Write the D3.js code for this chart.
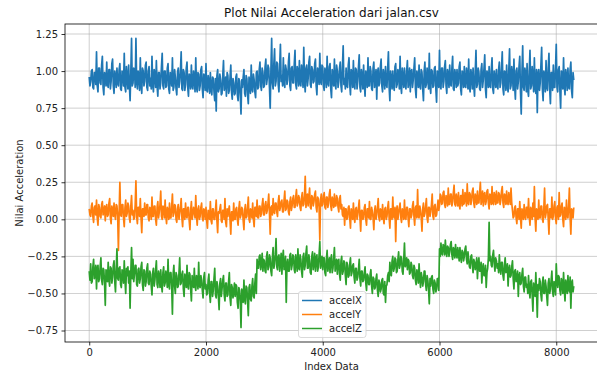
<!DOCTYPE html>
<html><head><meta charset="utf-8">
<script src="https://cdn.jsdelivr.net/npm/d3@7"></script>
<style>
html,body{margin:0;padding:0;background:#fff;}
svg{display:block;font-family:"DejaVu Sans",sans-serif;}
</style></head>
<body><svg id="c" width="597" height="376"></svg>
<script>
// sampled every 12.5 index units (0 .. 8300)
const step = 12.5;
const accelX = [
.96,.90,.93,1.00,1.01,.89,.88,.99,.99,.91,1.13,.90,.86,1.02,1.02,.92,.91,1.04,1.10,.89,.84,.99,.98,.90,1.06,.91,.89,1.01,1.01,.88,.93,1.05,1.08,.90,.85,1.00,.97,.89,1.02,.92,
.90,1.01,1.05,.88,.87,1.00,.99,.90,1.12,.89,.86,1.03,.96,.88,1.04,.91,.80,.99,1.22,.90,.92,1.02,1.01,.89,1.22,.93,.88,1.00,.97,.87,1.09,.91,.85,1.02,1.00,.90,.93,1.04,1.06,.89,
.87,1.00,1.03,.90,.95,.88,1.10,.91,.86,1.01,.98,.89,1.07,.90,.83,.99,.99,.88,.92,1.03,1.12,.90,.88,1.00,1.00,.89,.90,1.02,1.05,.88,.85,.99,.97,.90,1.09,.87,.89,1.01,.96,.88,
.84,.99,1.02,.89,.93,1.00,1.13,.88,.87,1.01,.99,.87,.91,1.02,1.06,.89,.83,.98,.97,.88,1.04,.90,.88,1.00,.95,.86,1.09,.89,.86,.99,.98,.87,.90,1.01,1.03,.88,.82,.98,.96,.87,
1.05,.87,.86,.97,.93,.85,.99,.88,.84,.96,.95,.86,.80,.95,.73,.97,1.01,.86,.88,.98,.94,.84,.85,.97,1.07,.87,.90,.96,.83,.99,.97,.85,.87,.96,1.04,.86,.81,.95,.92,.84,
.85,.96,.98,.84,.80,.95,.93,.83,.71,.94,.89,.96,1.01,.85,.83,.97,.95,.84,.78,.96,.91,.85,1.04,.88,.86,.98,.94,.86,.82,.99,1.00,.88,.89,1.01,1.06,.90,.87,1.02,.99,.89,
.90,1.03,1.08,.91,.95,1.04,1.02,.89,.75,1.01,1.22,.92,.88,1.05,1.15,.90,.93,1.06,1.05,.91,.86,1.03,1.18,.93,.97,.90,1.09,.92,.89,1.04,1.01,.91,.94,1.06,1.12,.90,.87,1.02,1.03,.92,
.92,1.05,1.14,.91,.88,1.03,1.00,.90,1.07,.92,.90,1.04,.98,.89,1.16,.93,.86,1.02,1.04,.90,.95,1.06,1.10,.91,.89,1.03,1.01,.92,.93,1.05,1.08,.90,.84,1.02,.99,.91,1.12,.93,.91,1.04,
1.03,.90,.87,1.02,.98,.89,1.10,.92,.90,1.03,1.05,.88,.82,1.01,.97,.90,1.08,.91,.88,1.04,1.00,.89,.93,1.02,1.06,.90,.86,1.03,1.17,.91,.95,.88,1.02,.90,.89,1.04,1.09,.91,.84,1.01,
.99,.89,1.07,.90,.88,1.02,1.01,.88,.93,1.03,1.11,.89,.86,1.01,.97,.88,1.04,.91,.83,1.00,.96,.89,1.09,.90,.90,1.03,1.00,.88,.87,1.02,1.06,.89,.94,1.01,.81,.99,1.02,.90,.92,1.03,
1.08,.90,.86,1.01,.97,.88,1.03,.91,.89,1.02,1.13,.89,.80,1.00,.95,.88,1.00,.90,.87,1.03,1.05,.89,.91,1.01,.98,.88,1.10,.90,.85,1.02,.96,.89,1.02,.91,.88,1.00,1.07,.89,.93,1.02,
.86,1.00,1.01,.89,.94,1.02,1.09,.88,.82,1.00,.97,.89,1.04,.90,.88,1.01,.99,.88,.80,1.00,1.06,.89,.91,1.02,.96,.88,1.12,.90,.85,1.01,1.00,.89,.90,1.02,1.03,.88,.79,1.00,.95,.89,
1.14,.90,.88,1.02,1.02,.89,.93,1.03,1.07,.90,.85,1.01,.98,.89,1.04,.91,.90,1.02,1.10,.88,.87,1.01,.97,.89,1.01,.90,.92,1.03,1.06,.88,.84,1.00,.99,.89,1.03,.90,.89,1.02,.96,.88,
1.08,.89,.86,1.01,.97,.88,1.02,.90,.83,1.00,1.14,.89,.91,1.02,.99,.88,.87,1.01,1.05,.89,.94,1.02,1.11,.88,.82,1.00,.98,.89,1.03,.90,.89,1.01,1.09,.88,.85,1.00,.96,.89,1.01,.90,
.88,1.01,1.06,.89,.92,1.02,1.13,.88,.84,1.00,.99,.87,1.04,.90,.86,1.01,1.15,.88,.90,1.03,.97,.87,1.08,.90,.81,1.00,1.02,.88,.93,1.03,1.10,.86,.71,.99,1.17,.89,.87,1.02,.98,.86,
1.05,.87,.83,1.00,1.14,.88,.90,1.03,.96,.86,1.09,.89,.85,1.01,.72,.98,1.01,.87,.92,1.04,1.16,.88,.80,1.00,.97,.86,1.07,.89,.87,1.02,1.12,.88,.78,.99,.99,.87,1.04,.89,.89,1.02,
1.18,.89,.86,1.01,1.03,.87,.75,1.00,.98,.88,1.09,.90,.84,1.01,.97,.87,1.02,.89,.88,1.01,1.06,.87,.82,.99,.94
];
const accelY = [
.07,.03,.02,.09,.11,.02,-.02,.08,.09,.03,.13,.01,-.04,.10,.08,.02,.01,.10,.12,.03,.05,.09,-.01,.08,.10,.02,.03,.11,.14,.01,-.03,.09,.06,.02,.11,.03,.00,.10,.09,.02,
-.21,.05,.25,.03,.02,.10,.10,.01,-.05,.08,.13,.02,.04,.11,.09,.01,-.02,.09,.16,.03,.06,.00,.01,.10,.26,.02,-.03,.08,.08,.02,.14,.01,-.09,.07,.07,.02,.11,.03,.03,.10,
.10,.01,-.01,.08,.07,.00,.15,.02,.02,.09,.09,.00,-.04,.08,.12,.01,.05,.10,.19,.02,.00,.09,.08,.01,.13,.02,-.03,.08,.06,.00,.11,.01,.01,.09,.17,.02,.04,.10,.09,.00,
-.02,.07,.10,.00,.04,.08,.14,.01,-.05,.07,.07,.00,.11,.02,.01,.08,.08,-.01,-.07,.06,.12,.00,.03,.08,.06,.01,.16,.02,-.04,.07,.09,.00,.02,.08,.11,.01,-.01,.07,.06,.00,
.08,-.01,-.06,.06,.05,.00,.12,-.01,-.03,.07,.07,.00,.00,.06,.13,-.01,-.09,.05,.04,.07,.10,-.01,-.02,.06,.06,.00,.14,-.02,-.05,.07,.02,.06,.09,-.01,-.10,.05,.05,-.01,.11,.00,
.00,.07,.08,.00,-.04,.07,.12,.01,.03,.08,.07,-.01,-.07,.06,.10,.01,.02,.08,.15,.00,-.02,.07,.06,.01,.11,.00,-.05,.08,.08,.02,.13,.01,.01,.09,.09,.02,.04,.10,.14,.03,
.03,.10,.12,.04,.06,.11,.17,.04,-.10,.08,.09,.03,.14,.05,.04,.11,.11,.05,.02,.12,.16,.06,.08,.12,.13,.05,.05,.13,.19,.06,.07,.13,.12,.05,.03,.12,.15,.06,.09,.14,
.16,.08,.08,.15,.20,.09,.11,.16,.14,.08,.06,.15,.18,.09,.10,.16,.29,.08,.13,.17,.09,.15,.21,.08,.07,.16,.15,.09,.12,.17,.19,.08,.05,.15,.14,.08,-.14,.13,.17,.09,
.10,.16,.18,.08,.07,.15,.15,.08,.11,.17,.20,.09,.06,.15,.13,.08,.17,.09,.09,.16,.14,.08,.05,.14,.16,.07,.10,.03,.02,.08,-.04,.07,.07,.00,.01,.08,.09,.01,-.06,.07,
.05,.00,.11,.01,-.02,.07,.08,.00,.03,.08,.13,.01,-.08,.06,.06,.00,.01,.08,.10,.00,-.04,.07,.07,.01,.12,.00,.00,.08,.05,.01,-.07,.06,.09,.00,.03,.08,.14,.01,-.01,.07,
.06,.00,.10,.01,-.03,.07,.08,.00,.02,.08,.12,.01,-.06,.07,.07,.00,.15,.02,.01,.08,-.15,.06,.09,.00,.04,.08,.11,.01,-.02,.07,.06,.00,.13,.01,.00,.08,.08,.01,-.05,.07,
.07,.01,.03,.09,.12,.02,-.04,.08,.09,.01,.20,.02,.01,.09,.06,.01,-.08,.07,.11,.02,.04,.09,.14,.01,-.02,.08,.08,.02,.05,.10,.17,.02,.00,.09,.10,.02,.03,.08,.13,.06,
.09,.17,.16,.10,.11,.18,.19,.10,.08,.16,.15,.09,.21,.10,.10,.17,.17,.09,.12,.18,.23,.10,.09,.17,.14,.09,.18,.10,.07,.16,.16,.09,.20,.10,.11,.18,.15,.09,.24,.11,
.10,.18,.17,.10,.13,.19,.21,.11,.08,.17,.15,.10,.19,.11,.11,.18,.25,.10,.14,.19,.09,.17,.18,.10,.12,.19,.20,.11,.07,.17,.16,.10,.22,.11,.10,.18,.15,.10,.19,.11,
.11,.18,.17,.10,.13,.19,.22,.11,.08,.17,.16,.10,.19,.11,.10,.18,.14,.10,.21,.11,.06,.01,.02,.08,.09,.01,-.03,.07,.07,.00,.12,.01,-.06,.07,.05,.00,.10,.02,.00,.08,
.08,.01,.14,.02,-.04,.08,.06,.00,.11,.02,.22,.01,-.08,.07,.05,.00,.13,.01,.01,.09,.09,.00,-.02,.08,.21,.01,.04,.09,.10,.00,-.10,.07,.07,.01,.15,.00,.02,.09,.12,.01,
-.03,.08,.09,.00,.18,.02,.03,.09,.11,.00,-.05,.08,.07,.00,.13,.02,.01,.09,.21,.01,-.10,.07,.06,.01,.08
];
const accelZ = [
-.35,-.41,-.30,-.43,-.42,-.32,-.27,-.40,-.38,-.31,-.47,-.33,-.31,-.42,-.40,-.32,-.26,-.41,-.44,-.33,-.34,-.43,-.58,-.34,-.36,-.42,-.29,-.41,-.45,-.32,-.33,-.43,-.39,-.31,-.28,-.42,-.49,-.33,-.20,-.40,
-.41,-.33,-.32,-.44,-.46,-.34,-.36,-.43,-.28,-.41,-.50,-.33,-.38,-.32,-.43,-.35,-.60,-.36,-.19,-.40,-.27,-.42,-.37,-.31,-.31,-.44,-.45,-.34,-.33,-.43,-.40,-.32,-.29,-.44,-.48,-.34,-.35,-.45,-.42,-.33,
-.30,-.43,-.44,-.35,-.37,-.45,-.51,-.36,-.33,-.45,-.41,-.34,-.28,-.44,-.46,-.35,-.38,-.46,-.34,-.44,-.49,-.36,-.32,-.45,-.43,-.35,-.39,-.46,-.27,-.44,-.47,-.36,-.36,-.45,-.64,-.37,-.31,-.45,-.50,-.36,
-.38,-.46,-.45,-.36,-.26,-.44,-.43,-.37,-.35,-.47,-.52,-.37,-.40,-.46,-.31,-.45,-.47,-.36,-.37,-.47,-.55,-.38,-.42,-.46,-.33,-.45,-.48,-.38,-.39,-.47,-.29,-.45,-.46,-.38,-.41,-.48,-.53,-.39,-.36,-.47,
-.44,-.51,-.50,-.41,-.37,-.50,-.56,-.42,-.42,-.52,-.48,-.40,-.33,-.51,-.53,-.42,-.45,-.52,-.61,-.43,-.40,-.52,-.47,-.41,-.38,-.51,-.55,-.43,-.43,-.52,-.51,-.42,-.36,-.53,-.58,-.44,-.46,-.53,-.49,-.43,
-.52,-.44,-.45,-.56,-.60,-.46,-.48,-.55,-.73,-.47,-.50,-.56,-.41,-.54,-.57,-.45,-.46,-.55,-.65,-.46,-.44,-.54,-.55,-.45,-.40,-.52,-.53,-.43,-.37,-.50,-.27,-.33,-.33,-.25,-.24,-.34,-.30,-.23,-.35,-.27,
-.28,-.35,-.36,-.25,-.22,-.34,-.32,-.24,-.26,-.35,-.38,-.26,-.19,-.33,-.30,-.24,-.13,-.32,-.34,-.25,-.24,-.35,-.29,-.23,-.37,-.26,-.21,-.34,-.33,-.25,-.56,-.30,-.27,-.35,-.35,-.24,-.23,-.34,-.31,-.24,
-.25,-.34,-.36,-.24,-.29,-.35,-.20,-.33,-.34,-.24,-.27,-.35,-.39,-.25,-.23,-.34,-.31,-.23,-.18,-.33,-.33,-.24,-.28,-.36,-.37,-.25,-.22,-.34,-.30,-.23,-.35,-.26,-.24,-.35,-.32,-.24,-.15,-.33,-.29,-.25,
-.34,-.26,-.26,-.36,-.38,-.27,-.21,-.35,-.31,-.26,-.36,-.27,-.24,-.36,-.33,-.26,-.19,-.35,-.30,-.27,-.37,-.28,-.27,-.37,-.41,-.28,-.25,-.37,-.35,-.28,-.29,-.38,-.44,-.29,-.31,-.39,-.38,-.30,-.26,-.38,
-.36,-.31,-.30,-.39,-.43,-.33,-.33,-.41,-.39,-.34,-.27,-.40,-.45,-.35,-.35,-.42,-.41,-.36,-.32,-.43,-.48,-.37,-.38,-.44,-.44,-.37,-.34,-.45,-.50,-.39,-.40,-.47,-.46,-.40,-.37,-.48,-.52,-.41,-.43,-.49,
-.47,-.41,-.40,-.50,-.51,-.42,-.56,-.45,-.44,-.38,-.36,-.42,-.29,-.37,-.38,-.28,-.25,-.35,-.33,-.26,-.27,-.36,-.35,-.27,-.22,-.33,-.31,-.25,-.26,-.35,-.37,-.27,-.16,-.32,-.30,-.26,-.34,-.27,-.28,-.37,
-.36,-.29,-.31,-.38,-.40,-.31,-.33,-.41,-.44,-.34,-.37,-.43,-.30,-.40,-.46,-.36,-.39,-.45,-.42,-.35,-.35,-.44,-.48,-.38,-.41,-.47,-.57,-.40,-.45,-.39,-.38,-.47,-.50,-.41,-.43,-.49,-.47,-.40,-.40,-.48,
-.20,-.25,-.16,-.23,-.24,-.17,-.18,-.24,-.14,-.22,-.25,-.18,-.19,-.25,-.22,-.17,-.15,-.24,-.27,-.19,-.21,-.26,-.17,-.24,-.26,-.19,-.23,-.28,-.19,-.25,-.29,-.21,-.22,-.28,-.25,-.20,-.18,-.27,-.30,-.22,
-.27,-.32,-.33,-.25,-.24,-.31,-.36,-.27,-.29,-.34,-.31,-.26,-.40,-.30,-.26,-.35,-.35,-.29,-.43,-.33,-.30,-.38,-.38,-.31,-.46,-.36,-.33,-.26,-.02,-.28,-.25,-.31,-.32,-.24,-.21,-.30,-.35,-.26,-.28,-.33,
-.30,-.36,-.24,-.33,-.37,-.29,-.29,-.38,-.41,-.31,-.26,-.36,-.35,-.30,-.45,-.34,-.31,-.39,-.38,-.32,-.28,-.40,-.47,-.35,-.34,-.42,-.40,-.35,-.52,-.38,-.36,-.44,-.43,-.37,-.33,-.45,-.49,-.39,-.39,-.46,
-.44,-.50,-.38,-.48,-.53,-.42,-.41,-.51,-.62,-.43,-.46,-.52,-.36,-.49,-.66,-.44,-.48,-.40,-.42,-.51,-.55,-.43,-.39,-.50,-.50,-.41,-.45,-.52,-.58,-.43,-.40,-.50,-.47,-.41,-.35,-.49,-.52,-.42,-.43,-.51,
-.30,-.42,-.46,-.38,-.39,-.48,-.51,-.40,-.42,-.50,-.36,-.47,-.55,-.41,-.44,-.50,-.38,-.47,-.49,-.39,-.60,-.43,-.41,-.49,-.45
];
const seriesNames = ["accelX","accelY","accelZ"];
const seriesColors = ["#1f77b4","#ff7f0e","#2ca02c"];
const xTicks = [0,2000,4000,6000,8000];
const yTicks = [-0.75,-0.5,-0.25,0,0.25,0.5,0.75,1.0,1.25];
const title = "Plot Nilai Acceleration dari jalan.csv";
const xLabel = "Index Data";
const yLabel = "Nilai Acceleration";

const svg = d3.select("#c");
const L = 65, R = 598, T = 24, B = 342;
const series = [accelX, accelY, accelZ];
const xMax = 8300;
const xPad = xMax*0.05;
const allV = series.flat();
const vMin = d3.min(allV), vMax = d3.max(allV);
const yPad = (vMax - vMin)*0.05;
const x = d3.scaleLinear().domain([-xPad, xMax + xPad]).range([L, R]);
const y = d3.scaleLinear().domain([vMin - yPad, vMax + yPad]).range([B, T]);

// grid
const grid = svg.append("g");
xTicks.forEach(t => grid.append("line").attr("x1", x(t)).attr("x2", x(t)).attr("y1", T).attr("y2", B)
  .attr("stroke", "#b0b0b0").attr("stroke-width", 0.8).attr("opacity", 0.75));
yTicks.forEach(t => grid.append("line").attr("x1", L).attr("x2", R).attr("y1", y(t)).attr("y2", y(t))
  .attr("stroke", "#b0b0b0").attr("stroke-width", 0.8).attr("opacity", 0.75));

// lines
series.forEach((s, k) => {
  const st = xMax / (s.length - 1);
  const line = d3.line().x((d,i) => x(i*st)).y(d => y(d));
  svg.append("path").datum(s).attr("d", line).attr("fill", "none")
    .attr("stroke", seriesColors[k]).attr("stroke-width", 1.7).attr("stroke-linejoin", "round");
});

// axes
const fmtY = d => d3.format(".2f")(d).replace("-", "\u2212");
const xAxis = d3.axisBottom(x).tickValues(xTicks).tickSize(3.5).tickPadding(3.5).tickFormat(d3.format("d"));
const yAxis = d3.axisLeft(y).tickValues(yTicks).tickSize(3.5).tickPadding(3.5).tickFormat(fmtY);
const gx = svg.append("g").attr("transform", `translate(0,${B})`).call(xAxis);
const gy = svg.append("g").attr("transform", `translate(${L},0)`).call(yAxis);
[gx, gy].forEach(g => {
  g.select(".domain").remove();
  g.selectAll(".tick line").attr("stroke", "#000").attr("stroke-width", 0.8);
  g.selectAll(".tick text").attr("fill", "#222").style("font-size", "10px").style("font-family", "DejaVu Sans");
});
// spines
svg.append("rect").attr("x", L).attr("y", T).attr("width", R-L).attr("height", B-T)
  .attr("fill", "none").attr("stroke", "#000").attr("stroke-width", 0.8);

// title and labels
svg.append("text").attr("x", (L+R)/2).attr("y", 17).attr("text-anchor", "middle")
  .style("font-size", "12px").attr("fill", "#111").text(title);
svg.append("text").attr("x", (L+R)/2).attr("y", 370).attr("text-anchor", "middle")
  .style("font-size", "10px").attr("fill", "#222").text(xLabel);
svg.append("text").attr("transform", `translate(23,${(T+B)/2}) rotate(-90)`).attr("text-anchor", "middle")
  .style("font-size", "10px").attr("fill", "#222").text(yLabel);

// legend
const lg = svg.append("g");
lg.append("rect").attr("x", 298.5).attr("y", 291.5).attr("width", 67.5).attr("height", 46).attr("rx", 2.5)
  .attr("fill", "#fff").attr("fill-opacity", 0.8).attr("stroke", "#d0d0d0").attr("stroke-width", 0.8);
seriesNames.forEach((nm, k) => {
  const yy = 300.5 + k*14;
  lg.append("line").attr("x1", 302).attr("x2", 322).attr("y1", yy).attr("y2", yy)
    .attr("stroke", seriesColors[k]).attr("stroke-width", 1.5);
  lg.append("text").attr("x", 329).attr("y", yy + 3.6).style("font-size", "10px").attr("fill", "#222").text(nm);
});
</script></body></html>
